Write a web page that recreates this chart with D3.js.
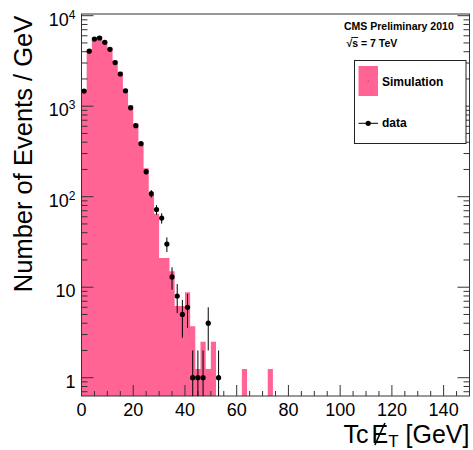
<!DOCTYPE html>
<html>
<head>
<meta charset="utf-8">
<script src="https://cdn.jsdelivr.net/npm/d3@7"></script>
<style>
  body { margin: 0; background: #fff; }
  svg { display: block; }
  text { font-family: "Liberation Sans", Arial, Helvetica, sans-serif; }
</style>
</head>
<body>
<svg id="chart" width="473" height="450"></svg>
<script>
// Tc missing-ET spectrum: simulation histogram vs. data, 2 GeV bins
const binWidth = 2;
const binLowEdges = [0, 2, 4, 6, 8, 10, 12, 14, 16, 18, 20, 22, 24, 26, 28, 30, 32, 34, 36,
  38, 40, 42, 44, 46, 48, 50, 52, 54, 56, 58, 60, 62, 64, 66, 68, 70, 72];
const simValues = [1530, 4250, 5800, 5950, 5300, 4450, 3200, 2400, 1560, 1030, 645, 400, 206,
  104, 65, 21, 21, 15, 6.2, 6.2, 8.8, 3.7, 1.25, 2.5, 1.25, 2.5, 0, 0, 0, 0, 0, 1.25, 0, 0, 0, 0, 1.25];
const dataCounts = [1470, 4050, 5520, 5670, 5080, 4250, 3030, 2270, 1480, 960, 610, 385, 189,
  108, 72, 58, 30, 13, 8, 5, 6, 1, 1, 1, 4, 0, 1, 0, 0, 0, 0, 0, 0, 0, 0, 0, 0];

const xTickValues = [0, 20, 40, 60, 80, 100, 120, 140];
const yDecades = [1, 10, 100, 1000, 10000];
const yDecadeExponents = [null, null, "2", "3", "4"];
const yDecadeBases = ["1", "10", "10", "10", "10"];

const legendLabels = ["Simulation", "data"];
const headerText = "CMS Preliminary 2010";

const pink = "#ff6495";
const frame = { left: 81.5, right: 469.5, top: 14, bottom: 396 };

const svg = d3.select("#chart");
const x = d3.scaleLinear().domain([0, 150]).range([frame.left, frame.right]);
const y = d3.scaleLog().domain([0.628, 10440]).range([frame.bottom, frame.top]);

// simulation histogram as one filled step path
const hp = d3.path();
simValues.forEach((v, i) => {
  if (v <= 0) return;
  const x0 = x(binLowEdges[i]), x1 = x(binLowEdges[i] + binWidth), yt = y(v);
  hp.moveTo(x0, frame.bottom);
  hp.lineTo(x0, yt);
  hp.lineTo(x1, yt);
  hp.lineTo(x1, frame.bottom);
  hp.closePath();
});
svg.append("path").attr("d", hp.toString()).attr("fill", pink);

// frame
svg.append("rect")
  .attr("x", frame.left).attr("y", frame.top)
  .attr("width", frame.right - frame.left).attr("height", frame.bottom - frame.top)
  .attr("fill", "none").attr("stroke", "#333").attr("stroke-width", 1);

const axisG = svg.append("g").attr("stroke", "#333").attr("stroke-width", 1);

// log-axis ticks on left and right
const [yMin, yMax] = y.domain();
const yMinor = [];
[0.1, 1, 10, 100, 1000].forEach(d => {
  for (let m = 2; m <= 9; m++) {
    const v = d * m;
    if (v >= yMin && v <= yMax) yMinor.push(v);
  }
});
function yTicks(x0, dir) {
  yDecades.forEach(v => {
    axisG.append("line").attr("x1", x0).attr("x2", x0 + dir * 12)
      .attr("y1", y(v)).attr("y2", y(v));
  });
  yMinor.forEach(v => {
    axisG.append("line").attr("x1", x0).attr("x2", x0 + dir * 6)
      .attr("y1", y(v)).attr("y2", y(v));
  });
}
yTicks(frame.left, 1);
yTicks(frame.right, -1);

// x-axis ticks: major every 20, minor every 5
const xMinor = d3.range(5, 150, 5).filter(v => v % 20 !== 0);
xTickValues.forEach(v => {
  axisG.append("line").attr("x1", x(v)).attr("x2", x(v))
    .attr("y1", frame.bottom).attr("y2", frame.bottom - 11);
});
xMinor.forEach(v => {
  axisG.append("line").attr("x1", x(v)).attr("x2", x(v))
    .attr("y1", frame.bottom).attr("y2", frame.bottom - 5);
});

// tick labels
svg.append("g").selectAll("text").data(xTickValues).join("text")
  .attr("x", d => x(d)).attr("y", 415.5)
  .attr("text-anchor", "middle").attr("font-size", 18).attr("fill", "#000")
  .text(d => d);

yDecades.forEach((v, i) => {
  const t = svg.append("text")
    .attr("x", 75.5).attr("y", y(v) + 10)
    .attr("text-anchor", "end").attr("font-size", 18).attr("fill", "#000");
  t.append("tspan").text(yDecadeBases[i]);
  if (yDecadeExponents[i]) {
    t.append("tspan").attr("font-size", 12).attr("dy", -7).text(yDecadeExponents[i]);
  }
});

// axis titles
svg.append("text")
  .attr("transform", "translate(32,154) rotate(-90)")
  .attr("text-anchor", "middle").attr("font-size", 25.5).attr("fill", "#000")
  .text("Number of Events / GeV");

const xBase = 443;
const xt = svg.append("text")
  .attr("x", frame.right).attr("y", xBase)
  .attr("text-anchor", "end").attr("font-size", 25).attr("fill", "#000");
xt.append("tspan").text("Tc");
xt.append("tspan").attr("dx", 3).text("E");
xt.append("tspan").attr("font-size", 17).attr("dy", 3.5).text("T");
xt.append("tspan").attr("dy", -3.5).text(" [GeV]");
{
  const e = xt.node().getExtentOfChar(2);
  svg.append("line")
    .attr("x1", e.x + e.width * 0.2).attr("y1", xBase + 2)
    .attr("x2", e.x + e.width * 0.8).attr("y2", xBase - 20)
    .attr("stroke", "#000").attr("stroke-width", 1.6);
}

// data points with sqrt(N) error bars
const pts = dataCounts.map((n, i) => ({ c: binLowEdges[i] + binWidth / 2, n })).filter(d => d.n > 0);
const dataG = svg.append("g");
dataG.selectAll("line").data(pts).join("line")
  .attr("x1", d => x(d.c)).attr("x2", d => x(d.c))
  .attr("y1", d => y(d.n + Math.sqrt(d.n)))
  .attr("y2", d => (d.n - Math.sqrt(d.n) > yMin ? y(d.n - Math.sqrt(d.n)) : frame.bottom))
  .attr("stroke", "#000").attr("stroke-width", 1);
dataG.selectAll("circle").data(pts).join("circle")
  .attr("cx", d => x(d.c)).attr("cy", d => y(d.n)).attr("r", 2.6).attr("fill", "#000");

// header
svg.append("text").attr("x", 344).attr("y", 29.5)
  .attr("font-size", 10.5).attr("font-weight", "bold").attr("fill", "#000")
  .text(headerText);
const rs = svg.append("text").attr("x", 346.5).attr("y", 46.5)
  .attr("font-size", 10.5).attr("font-weight", "bold").attr("fill", "#000")
  .text("\u221As = 7 TeV");
{
  const r0 = rs.node().getExtentOfChar(0);
  const s1 = rs.node().getExtentOfChar(1);
  const yl = 46.5 - 9;
  svg.append("line").attr("x1", r0.x + r0.width - 1).attr("x2", s1.x + s1.width)
    .attr("y1", yl).attr("y2", yl).attr("stroke", "#000").attr("stroke-width", 0.9);
}

// legend
const lg = svg.append("g");
lg.append("rect").attr("x", 354.5).attr("y", 60.5).attr("width", 111.5).attr("height", 83)
  .attr("fill", "#fff").attr("stroke", "#222").attr("stroke-width", 1);
lg.append("rect").attr("x", 358.5).attr("y", 66).attr("width", 19.5).attr("height", 30).attr("fill", pink);
lg.append("circle").attr("cx", 368.2).attr("cy", 81).attr("r", 0.6).attr("fill", "#555");
lg.append("line").attr("x1", 358.5).attr("x2", 378).attr("y1", 123.3).attr("y2", 123.3)
  .attr("stroke", "#000").attr("stroke-width", 1);
lg.append("circle").attr("cx", 368.2).attr("cy", 123.3).attr("r", 2.6).attr("fill", "#000");
lg.selectAll("text.lab").data(legendLabels).join("text").attr("class", "lab")
  .attr("x", 382).attr("y", (d, i) => (i === 0 ? 85.5 : 127))
  .attr("font-size", 12).attr("font-weight", "bold").attr("fill", "#000")
  .text(d => d);
</script>
</body>
</html>
